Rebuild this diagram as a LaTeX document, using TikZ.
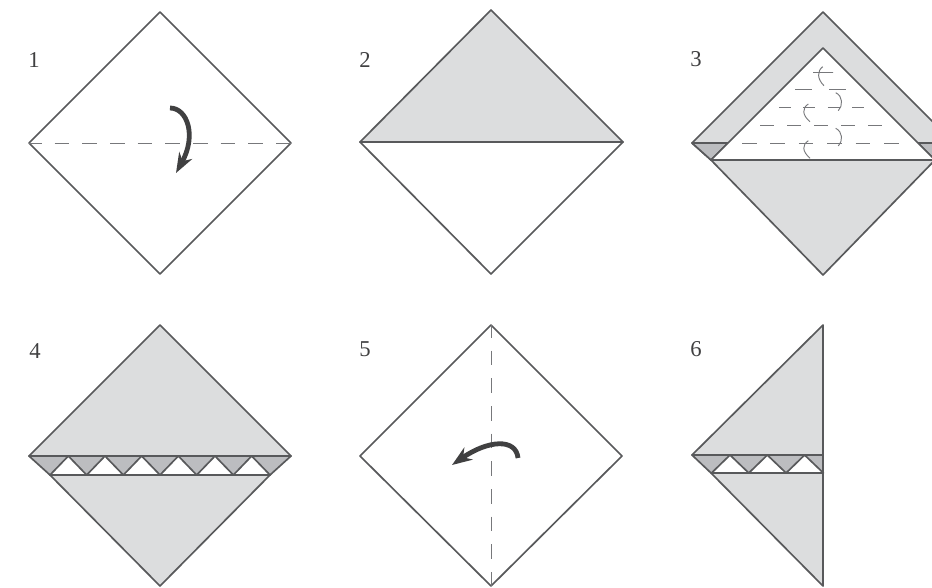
\documentclass[tikz,border=0pt]{standalone}
\usepackage{fontspec}
\setmainfont{Liberation Serif}
\usepackage{tikz}
\usetikzlibrary{arrows.meta}
\definecolor{inkgray}{HTML}{58595B}
\definecolor{creasegray}{HTML}{77787B}
\definecolor{flapgray}{HTML}{DCDDDE}
\definecolor{pleatgray}{HTML}{BCBDC0}
\definecolor{arrowgray}{HTML}{404041}

\begin{document}
\begin{tikzpicture}[
  x=0.75pt, y=-0.75pt,
  font=\fontsize{17}{17}\selectfont,
  edge/.style={draw=inkgray, line width=1.25pt, line join=round},
  flap/.style={edge, fill=flapgray},
  pleat/.style={edge, fill=pleatgray},
  crease/.style={draw=creasegray, line width=0.7pt, dash pattern=on 11pt off 9.75pt, dash phase=1.5pt},
  tuck/.style={draw=creasegray, line width=0.7pt},
  foldarr/.style={draw=arrowgray, line width=3.6pt, -{Stealth[length=15pt, width=11pt]}},
  num/.style={text=arrowgray, inner sep=0pt}
]
\useasboundingbox (0,0) rectangle (932,587);
% Step numbers
\node[num] (n1) at (34,60) {1};
\node[num] (n2) at (365,60) {2};
\node[num] (n3) at (696,59) {3};
\node[num] (n4) at (35,351) {4};
\node[num] (n5) at (365,349) {5};
\node[num] (n6) at (696,349) {6};
% Step 1
\draw[edge, fill=white] (29,143) -- (160,12) -- (291,143) -- (160,274) -- cycle;
\draw[crease] (29,143) -- (291,143);
\coordinate (a1s) at (170,108);
\coordinate (a1e) at (176,173);
\draw[foldarr] (a1s) .. controls (187,108) and (197,135) .. (a1e);
% Step 2
\draw[flap] (360,142) -- (491,10) -- (623,142) -- cycle;
\draw[edge, fill=white] (360,142) -- (623,142) -- (491,274) -- cycle;
% Step 3
\draw[flap] (692,143) -- (823,12) -- (954,143) -- (935,160) -- (711,160) -- cycle;
\draw[flap] (711,160) -- (935,160) -- (823,275) -- cycle;
\draw[pleat] (692,143) -- (728,143) -- (711,160) -- cycle;
\draw[pleat] (954,143) -- (918,143) -- (935,160) -- cycle;
\draw[edge, fill=white] (711,160) -- (823,48) -- (935,160) -- cycle;
% Dashes on the inner triangle
\foreach \yy/\xa/\xb/\don/\doff in {143/742/900/11/10.3, 125/760/882/10.5/9.75, 107/779/864/9/9.3, 89/795/846/12.75/12.75, 72/813/833/15/0}
  \draw[tuck, dash pattern=on \don pt off \doff pt] (\xa,\yy) -- (\xb,\yy);
\draw[tuck] (822.7,66.7) .. controls (817,71) and (817,79) .. (824,85.7);
\draw[tuck] (835.7,92.7) .. controls (843,96) and (843,106) .. (838.3,110.7);
\draw[tuck] (808.3,104) .. controls (802,108) and (802,115) .. (810,121.7);
\draw[tuck] (835.7,128.3) .. controls (843,132) and (843,141) .. (838.3,146);
\draw[tuck] (808.3,140.7) .. controls (802,145) and (802,151) .. (810,158.3);
% Step 4
\draw[flap] (29,456) -- (160,325) -- (291,456) -- cycle;
\draw[flap] (50,475) -- (270,475) -- (160,586) -- cycle;
\draw[pleat] (29,456) -- (291,456) -- (270,475) -- (50,475) -- cycle;
\foreach \i in {0,...,5}
  \draw[edge, fill=white] ({50+36.67*\i},475) -- ({68.33+36.67*\i},456) -- ({86.67+36.67*\i},475) -- cycle;
% Step 5
\draw[edge, fill=white] (360,456) -- (491,325) -- (622,456) -- (491,586) -- cycle;
\draw[crease] (491,325) -- (491,586);
\coordinate (a5s) at (518,458);
\coordinate (a5e) at (452,465);
\draw[foldarr] (a5s) .. controls (516,438) and (488,440) .. (a5e);
% Step 6
\draw[flap] (692,455) -- (823,325) -- (823,455) -- cycle;
\draw[flap] (711,473) -- (823,473) -- (823,586) -- cycle;
\draw[pleat] (692,455) -- (823,455) -- (823,473) -- (711,473) -- cycle;
\foreach \i in {0,1,2}
  \draw[edge, fill=white] ({711.5+37.3*\i},473) -- ({730+37.3*\i},455) -- ({748.8+37.3*\i},473) -- cycle;
\end{tikzpicture}
\end{document}
